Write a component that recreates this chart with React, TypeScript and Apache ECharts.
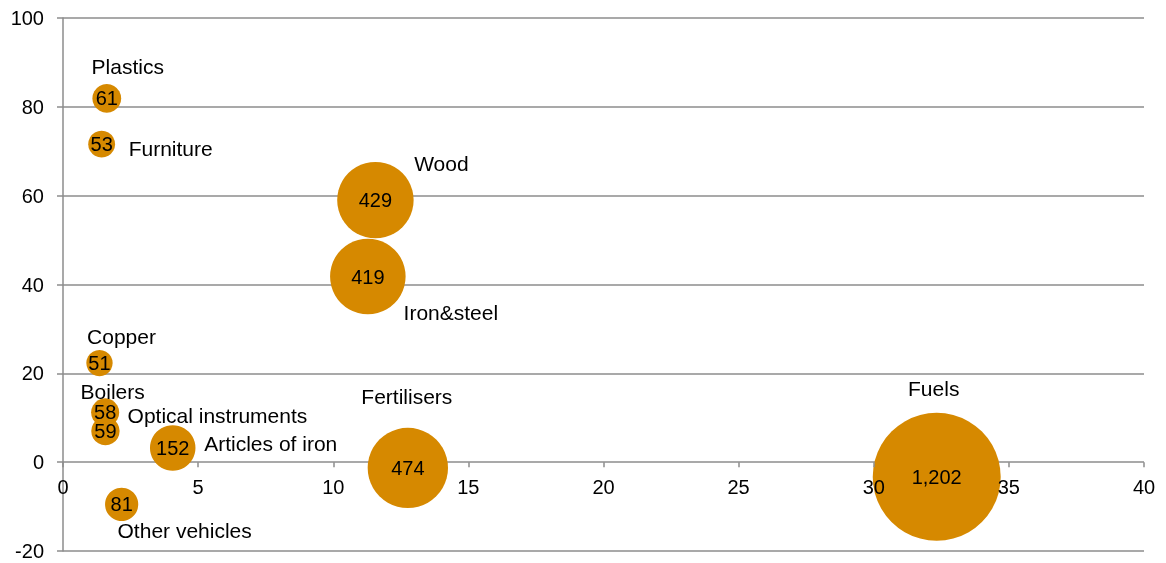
import React, { useEffect, useRef } from "react";
import * as echarts from "echarts";

const names = ["Plastics", "Furniture", "Wood", "Iron&steel", "Copper", "Boilers", "Optical instruments", "Articles of iron", "Fertilisers", "Fuels", "Other vehicles"];
const xValues = [1.62, 1.43, 11.56, 11.28, 1.35, 1.56, 1.57, 4.06, 12.76, 32.33, 2.17];
const yValues = [81.9, 71.6, 59.0, 41.8, 22.3, 11.2, 7.0, 3.2, -1.3, -3.3, -9.5];
const sizes = [61, 53, 429, 419, 51, 58, 59, 152, 474, 1202, 81];
const nameOffsets: number[][] = [[21, -32], [69, 4], [66, -37], [83, 36], [22, -27], [7.5, -21], [112, -16], [98, -4], [-1, -71], [-3, -88.5], [63, 26]];

const X_MIN = 0, X_MAX = 40, X_STEP = 5;
const Y_MIN = -20, Y_MAX = 100, Y_STEP = 20;

const FONT = "'Liberation Sans', Arial, sans-serif";
const GRID_COLOR = "#8c8c8c";
const BUBBLE = "#D68900";
const W = 1166, H = 563;
const GRID = { left: 63, right: 22, top: 18, bottom: 12 };

export default function App() {
  const ref = useRef<HTMLDivElement>(null);
  useEffect(() => {
    if (!ref.current) return;
    const chart = echarts.init(ref.current, undefined, { renderer: "svg" });
    const data = names.map((n, i) => ({ name: n, value: [xValues[i], yValues[i], sizes[i]] }));
    const plotH = H - GRID.top - GRID.bottom;
    const zeroOffset = -plotH * (0 - Y_MIN) / (Y_MAX - Y_MIN);
    chart.setOption({
      animation: false,
      grid: { ...GRID, containLabel: false, outerBoundsMode: "none" },
      xAxis: {
        type: "value", min: X_MIN, max: X_MAX, interval: X_STEP, z: 10,
        position: "bottom", offset: zeroOffset,
        axisLine: { show: false, onZero: false },
        axisTick: { show: true, length: 5, lineStyle: { color: GRID_COLOR, width: 1.5 } },
        axisLabel: { show: true, margin: 15, color: "#000", fontSize: 20, fontFamily: FONT },
        splitLine: { show: false },
      },
      yAxis: {
        type: "value", min: Y_MIN, max: Y_MAX, interval: Y_STEP,
        axisLine: { show: true, lineStyle: { color: GRID_COLOR, width: 1.5 } },
        axisTick: { show: true, length: 6, lineStyle: { color: GRID_COLOR, width: 1.5 } },
        axisLabel: { margin: 19, color: "#000", fontSize: 20, fontFamily: FONT },
        splitLine: { show: true, lineStyle: { color: GRID_COLOR, width: 1.5 } },
      },
      series: [
        {
          type: "scatter",
          data,
          symbolSize: (v: number[]) => 3.69 * Math.sqrt(v[2]),
          itemStyle: { color: BUBBLE, opacity: 1 },
          label: {
            show: true, position: "inside", color: "#000", fontSize: 20, fontFamily: FONT,
            textBorderWidth: 0,
            formatter: (p: any) => Number(p.value[2]).toLocaleString("en-US"),
          },
          z: 2,
        },
        {
          type: "scatter",
          data: data.map((d, i) => ({
            ...d,
            label: { offset: nameOffsets[i] },
          })),
          symbolSize: 0.1,
          itemStyle: { color: "transparent", opacity: 1 },
          label: {
            show: true, position: "inside", color: "#000", opacity: 1, fontSize: 21, fontFamily: FONT,
            textBorderWidth: 0,
            formatter: (p: any) => p.name,
          },
          silent: true,
          z: 3,
        },
      ],
    });
    return () => chart.dispose();
  }, []);
  return <div ref={ref} style={{ position: "fixed", left: 0, top: 0, width: W, height: H }} />;
}
